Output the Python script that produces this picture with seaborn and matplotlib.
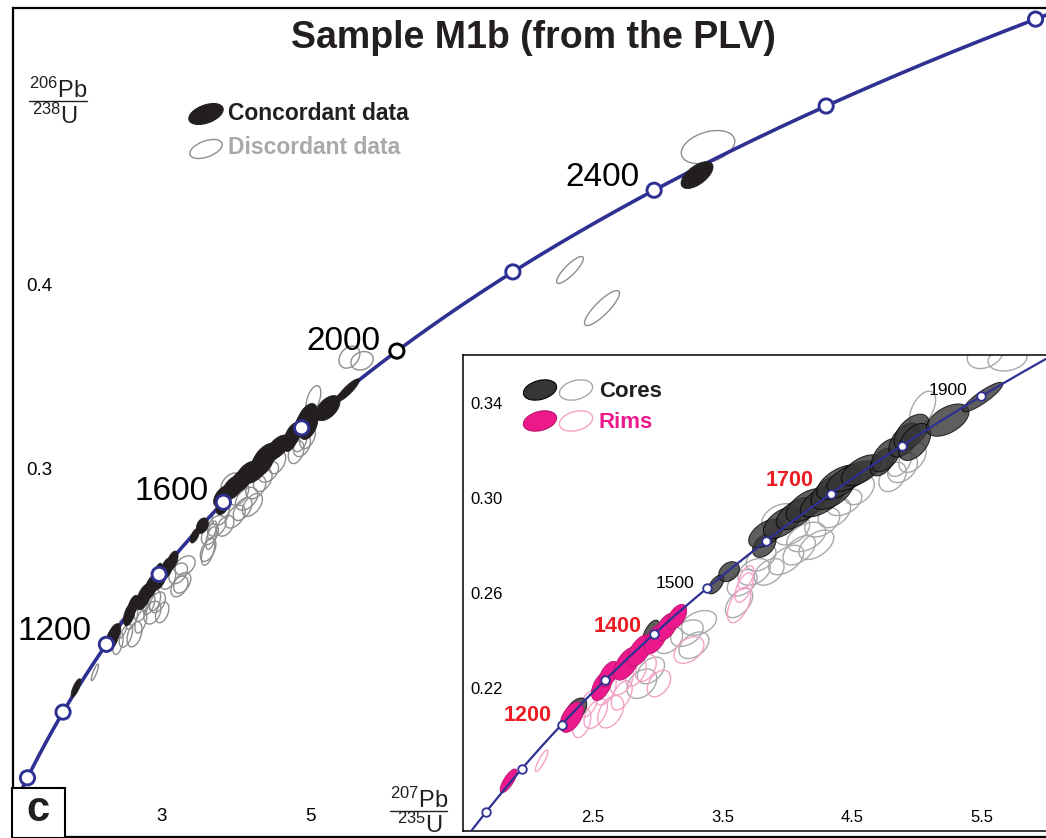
import numpy as np
import pandas as pd
import matplotlib
matplotlib.use("Agg")
import matplotlib.pyplot as plt
import seaborn as sns
from matplotlib.patches import Ellipse, Rectangle
from matplotlib.lines import Line2D

# ---------------- data ----------------
LAMBDA_238 = 1.55125e-10   # 1/yr
LAMBDA_235 = 9.8485e-10    # 1/yr

main_marker_ages = [800, 1000, 1200, 1400, 1600, 1800, 2000, 2200, 2400, 2600, 2800]
main_label_ages = [1200, 1600, 2000, 2400]
inset_marker_ages = [1000, 1100, 1200, 1300, 1400, 1500, 1600, 1700, 1800, 1900]
inset_label_ages = [1200, 1400, 1500, 1700, 1900]

main_xticks = [2, 3, 4, 5, 6, 7, 8, 9, 10, 11, 12, 13, 14]
main_xticklabels = ["", "3", "", "5", "", "", "", "", "", "", "", "", ""]
main_yticks = [0.15, 0.20, 0.25, 0.30, 0.35, 0.40, 0.45, 0.50]
main_yticklabels = ["", "", "", "0.3", "", "0.4", "", ""]
inset_xticks = [2.0, 2.5, 3.0, 3.5, 4.0, 4.5, 5.0, 5.5]
inset_xticklabels = ["", "2.5", "", "3.5", "", "4.5", "", "5.5"]
inset_yticks = [0.18, 0.20, 0.22, 0.24, 0.26, 0.28, 0.30, 0.32, 0.34]
inset_yticklabels = ["", "", "0.22", "", "0.26", "", "0.30", "", "0.34"]

# concordant cores: 207Pb/235U, 206Pb/238U, 2s errors, error correlation
core_conc_x = [2.369, 2.949, 3.451, 3.552, 3.823, 3.838, 3.962, 4.070, 4.147, 4.271, 4.349,
               4.403, 4.496, 4.573, 4.735, 4.766, 4.905, 4.960, 4.983, 5.238, 5.509, 10.207]
core_conc_y = [0.2105, 0.2433, 0.2636, 0.2690, 0.2800, 0.2851, 0.2896, 0.2935, 0.2969, 0.2990, 0.3027,
               0.3066, 0.3091, 0.3117, 0.3151, 0.3180, 0.3244, 0.3277, 0.3236, 0.3328, 0.3425, 0.4593]
core_conc_sx = [0.085, 0.065, 0.062, 0.080, 0.090, 0.135, 0.145, 0.155, 0.155, 0.170, 0.165,
                0.175, 0.190, 0.155, 0.095, 0.115, 0.120, 0.135, 0.125, 0.165, 0.155, 0.215]
core_conc_sy = [0.0053, 0.0053, 0.0040, 0.0042, 0.0050, 0.0060, 0.0066, 0.0068, 0.0070, 0.0070, 0.0075,
                0.0073, 0.0065, 0.0065, 0.0058, 0.0070, 0.0072, 0.0076, 0.0078, 0.0068, 0.0062, 0.0073]
core_conc_rho = [0.50, 0.60, 0.60, 0.30, 0.40, 0.50, 0.50, 0.55, 0.55, 0.60, 0.50,
                 0.55, 0.65, 0.55, 0.45, 0.50, 0.50, 0.50, 0.45, 0.50, 0.88, 0.60]

# concordant rims
rim_conc_x = [1.851, 2.338, 2.570, 2.624, 2.763, 2.864, 2.987, 3.072, 3.150]
rim_conc_y = [0.1809, 0.2077, 0.2209, 0.2258, 0.2303, 0.2358, 0.2408, 0.2458, 0.2500]
rim_conc_sx = [0.065, 0.090, 0.080, 0.075, 0.100, 0.095, 0.090, 0.085, 0.075]
rim_conc_sy = [0.0050, 0.0064, 0.0062, 0.0054, 0.0070, 0.0066, 0.0064, 0.0058, 0.0052]
rim_conc_rho = [0.75, 0.50, 0.50, 0.50, 0.55, 0.55, 0.55, 0.50, 0.50]

# discordant cores
core_disc_x = [3.227, 3.320, 3.281, 3.088, 2.879, 2.949, 3.653, 3.745, 3.629, 3.939, 4.039,
               4.147, 4.093, 4.271, 4.364, 4.441, 3.993, 3.799, 3.861, 4.813, 4.890, 4.967,
               5.045, 5.530, 5.700, 4.867, 4.225, 4.557, 8.498, 8.928, 10.355]
core_disc_y = [0.2431, 0.2474, 0.2380, 0.2401, 0.2218, 0.2274, 0.2643, 0.2689, 0.2558, 0.2920, 0.2864,
               0.2836, 0.2780, 0.2898, 0.2937, 0.2982, 0.2739, 0.2748, 0.2689, 0.3089, 0.3127, 0.3170,
               0.3375, 0.3605, 0.3585, 0.3153, 0.2803, 0.3034, 0.4078, 0.3871, 0.4745]
core_disc_sx = [0.125, 0.135, 0.115, 0.105, 0.115, 0.105, 0.115, 0.125, 0.105, 0.135, 0.135,
                0.150, 0.125, 0.135, 0.125, 0.135, 0.135, 0.115, 0.115, 0.105, 0.115, 0.105,
                0.100, 0.140, 0.150, 0.095, 0.135, 0.115, 0.180, 0.235, 0.360]
core_disc_sy = [0.0056, 0.0052, 0.0056, 0.0056, 0.0062, 0.0056, 0.0056, 0.0056, 0.0062, 0.0056, 0.0062,
                0.0062, 0.0062, 0.0062, 0.0062, 0.0056, 0.0062, 0.0056, 0.0056, 0.0062, 0.0062, 0.0062,
                0.0075, 0.0060, 0.0050, 0.0062, 0.0062, 0.0062, 0.0073, 0.0095, 0.0090]
core_disc_rho = [0.40, 0.35, 0.40, 0.40, 0.35, 0.40, 0.40, 0.35, 0.50, 0.40, 0.40,
                 0.40, 0.50, 0.40, 0.40, 0.40, 0.50, 0.40, 0.40, 0.35, 0.35, 0.40,
                 0.50, 0.30, 0.20, 0.40, 0.50, 0.40, 0.85, 0.85, 0.35]

# discordant rims
rim_disc_x = [2.106, 2.523, 2.639, 2.415, 2.469, 2.601, 2.724, 2.833, 2.724, 2.910,
              3.243, 3.629, 3.668, 3.683, 3.011]
rim_disc_y = [0.1894, 0.2092, 0.2100, 0.2053, 0.2134, 0.2190, 0.2233, 0.2263, 0.2169, 0.2284,
              0.2360, 0.2550, 0.2623, 0.2665, 0.2219]
rim_disc_sx = [0.048, 0.090, 0.100, 0.070, 0.070, 0.080, 0.090, 0.080, 0.080, 0.080,
               0.115, 0.090, 0.070, 0.060, 0.090]
rim_disc_sy = [0.0045, 0.0062, 0.0068, 0.0062, 0.0056, 0.0062, 0.0062, 0.0056, 0.0062, 0.0056,
               0.0056, 0.0075, 0.0062, 0.0050, 0.0056]
rim_disc_rho = [0.85, 0.50, 0.40, 0.40, 0.50, 0.50, 0.40, 0.50, 0.50, 0.40,
                0.40, 0.55, 0.55, 0.55, 0.40]

# ---------------- style ----------------
sns.set_theme(style="white")
plt.rcParams["font.family"] = ["Liberation Sans", "DejaVu Sans"]
plt.rcParams["mathtext.fontset"] = "custom"
plt.rcParams["mathtext.rm"] = "Liberation Sans"
plt.rcParams["mathtext.default"] = "regular"

NAVY = "#2e3192"
BLACK_FILL = "#231f20"
CORE_FILL = "#363636"
MAGENTA = "#ec198c"
PINK = "#f4a3c6"
GRAY = "#8e8e8e"
LGRAY = "#a7a9ac"
RED = "#ed1c24"

W, H, DPI = 1046, 838, 100
fig = plt.figure(figsize=(W / DPI, H / DPI), dpi=DPI)
fig.patch.set_facecolor("white")


def fx(px):
    return px / W


def fy(py):
    return 1 - py / H


def ellipse_xy(x, y, sx, sy, rho, n=90):
    t = np.linspace(0, 2 * np.pi, n)
    ex = x + sx * np.cos(t)
    ey = y + sy * (rho * np.cos(t) + np.sqrt(1 - rho ** 2) * np.sin(t))
    return ex, ey


def draw_ellipses(a, xs, ys, sxs, sys_, rhos, **kw):
    for x, y, sx, sy, r in zip(xs, ys, sxs, sys_, rhos):
        ex, ey = ellipse_xy(x, y, sx, sy, r)
        a.fill(ex, ey, **kw)


def concordia(ages_ma):
    t = np.asarray(ages_ma, dtype=float) * 1e6
    return np.expm1(LAMBDA_235 * t), np.expm1(LAMBDA_238 * t)


line_ages = np.arange(700, 3001, 5)
cx, cy = concordia(line_ages)
conc_df = pd.DataFrame({"x": cx, "y": cy})

# ---------------- main axes ----------------
ax = fig.add_axes([fx(12.7), fy(837), (1053.3 - 12.7) / W, (837 - 8) / H])
ax.set_xlim(1, 15)
ax.set_ylim(0.1, 0.55)
ax.set_facecolor("white")

sns.lineplot(data=conc_df, x="x", y="y", sort=False, estimator=None, ax=ax,
             color=NAVY, lw=2.6, zorder=2)

for xs, ys, sxs, sys_, rhos in [(core_disc_x, core_disc_y, core_disc_sx, core_disc_sy, core_disc_rho),
                                (rim_disc_x, rim_disc_y, rim_disc_sx, rim_disc_sy, rim_disc_rho)]:
    draw_ellipses(ax, xs, ys, sxs, sys_, rhos, fill=False, edgecolor=GRAY, lw=1.0, zorder=1.5)
for xs, ys, sxs, sys_, rhos in [(core_conc_x, core_conc_y, core_conc_sx, core_conc_sy, core_conc_rho),
                                (rim_conc_x, rim_conc_y, rim_conc_sx, rim_conc_sy, rim_conc_rho)]:
    draw_ellipses(ax, xs, ys, sxs, sys_, rhos, facecolor=BLACK_FILL, edgecolor=BLACK_FILL, lw=0.6, zorder=3)

mx, my = concordia(main_marker_ages)
medge = ["black" if a == 2000 else NAVY for a in main_marker_ages]
sns.scatterplot(x=mx, y=my, ax=ax, s=105, color="white", edgecolor=medge, linewidth=2.1, zorder=5)

main_label_pos = {1200: (1.556, 0.2113), 1600: (3.144, 0.2873), 2000: (5.444, 0.3692), 2400: (8.929, 0.4582)}
for age in main_label_ages:
    px_, py_ = main_label_pos[age]
    ax.text(px_, py_, str(age), fontsize=24, ha="center", va="center", color="black", zorder=6)

ax.set_xticks(main_xticks, main_xticklabels)
ax.set_yticks(main_yticks, main_yticklabels)
ax.tick_params(axis="both", direction="in", length=7, width=1.3, colors="black", labelsize=13.5)
ax.tick_params(axis="x", pad=-21)
ax.tick_params(axis="y", pad=-10)
for lab in ax.get_yticklabels():
    lab.set_horizontalalignment("left")
ax.set_xlabel("")
ax.set_ylabel("")
for side in ["left", "top", "bottom"]:
    ax.spines[side].set_visible(True)
    ax.spines[side].set_color("black")
    ax.spines[side].set_linewidth(1.6)
ax.spines["right"].set_visible(False)

# ---------------- inset axes ----------------
axi = fig.add_axes([fx(463.1), fy(830.5), (1046.4 - 463.1) / W, (830.5 - 355.5) / H])
axi.set_zorder(3)
axi.set_facecolor("white")
axi.set_xlim(1.5, 6.0)
axi.set_ylim(0.16, 0.36)

draw_ellipses(axi, core_disc_x, core_disc_y, core_disc_sx, core_disc_sy, core_disc_rho,
              fill=False, edgecolor=LGRAY, lw=1.0, zorder=2)
draw_ellipses(axi, rim_disc_x, rim_disc_y, rim_disc_sx, rim_disc_sy, rim_disc_rho,
              fill=False, edgecolor=PINK, lw=1.0, zorder=2)
draw_ellipses(axi, core_conc_x, core_conc_y, core_conc_sx, core_conc_sy, core_conc_rho,
              facecolor=CORE_FILL, edgecolor="black", lw=0.7, alpha=0.8, zorder=3)
draw_ellipses(axi, rim_conc_x, rim_conc_y, rim_conc_sx, rim_conc_sy, rim_conc_rho,
              facecolor=MAGENTA, edgecolor="#b8156f", lw=0.6, zorder=4)

sns.lineplot(data=conc_df, x="x", y="y", sort=False, estimator=None, ax=axi,
             color=NAVY, lw=1.6, zorder=5)
ix, iy = concordia(inset_marker_ages)
sns.scatterplot(x=ix, y=iy, ax=axi, s=38, color="white", edgecolor=NAVY, linewidth=1.3, zorder=6)

inset_label_pos = {1200: (1.996, 0.2086), 1400: (2.691, 0.2457), 1500: (3.131, 0.2642),
                   1700: (4.018, 0.3072), 1900: (5.238, 0.3451)}
inset_label_style = {1200: (RED, "bold", 15.5), 1400: (RED, "bold", 15.5), 1500: ("black", "normal", 12.5),
                     1700: (RED, "bold", 15.5), 1900: ("black", "normal", 12.5)}
for age in inset_label_ages:
    px_, py_ = inset_label_pos[age]
    c, wgt, fs = inset_label_style[age]
    axi.text(px_, py_, str(age), fontsize=fs, fontweight=wgt, color=c, ha="center", va="center", zorder=7)

axi.set_xticks(inset_xticks, inset_xticklabels)
axi.set_yticks(inset_yticks, inset_yticklabels)
axi.tick_params(axis="both", direction="in", length=3, width=1.0, colors="black", labelsize=12)
axi.tick_params(axis="x", pad=-15)
axi.tick_params(axis="y", pad=-5)
for lab in axi.get_yticklabels():
    lab.set_horizontalalignment("left")
axi.set_xlabel("")
axi.set_ylabel("")
for side in ["left", "top", "bottom"]:
    axi.spines[side].set_visible(True)
    axi.spines[side].set_color("black")
    axi.spines[side].set_linewidth(1.1)
axi.spines["right"].set_visible(False)

# ---------------- annotations ----------------
fig.text(fx(533), fy(38), "Sample M1b (from the PLV)", fontsize=27, fontweight="bold",
         ha="center", va="center", color="#231f20")


def add_ell(px, py, w, h, ang, **kw):
    e = Ellipse((px / DPI, (H - py) / DPI), w / DPI, h / DPI, angle=ang,
                transform=fig.dpi_scale_trans, **kw)
    e.set_zorder(10)
    fig.add_artist(e)


add_ell(206, 114, 36, 18, 20, facecolor=BLACK_FILL, edgecolor=BLACK_FILL, lw=0.8)
add_ell(206, 149, 34, 16, 20, facecolor="none", edgecolor=GRAY, lw=1.0)
fig.text(fx(228), fy(113), "Concordant data", fontsize=16.5, fontweight="bold",
         ha="left", va="center", color=BLACK_FILL)
fig.text(fx(228), fy(148), "Discordant data", fontsize=16.5, fontweight="bold",
         ha="left", va="center", color=LGRAY)

add_ell(540, 390, 34, 19, 15, facecolor=CORE_FILL, edgecolor="black", lw=0.8)
add_ell(576, 390, 34, 19, 15, facecolor="white", edgecolor=LGRAY, lw=1.0)
add_ell(540, 421, 34, 19, 15, facecolor=MAGENTA, edgecolor="#b8156f", lw=0.8)
add_ell(576, 421, 34, 19, 15, facecolor="white", edgecolor=PINK, lw=1.0)
t1 = fig.text(fx(599), fy(391), "Cores", fontsize=16, fontweight="bold", ha="left", va="center", color=BLACK_FILL)
t2 = fig.text(fx(599), fy(422), "Rims", fontsize=16, fontweight="bold", ha="left", va="center", color=MAGENTA)
t1.set_zorder(10)
t2.set_zorder(10)

fig.text(fx(58), fy(98), "$^{206}$Pb", fontsize=17, ha="center", va="baseline", color=BLACK_FILL)
fig.add_artist(Line2D([fx(29), fx(87)], [fy(101), fy(101)], transform=fig.transFigure, color=BLACK_FILL, lw=1.0))
fig.text(fx(55), fy(104), "$^{238}$U", fontsize=17, ha="center", va="top", color=BLACK_FILL)

fig.text(fx(419), fy(808), "$^{207}$Pb", fontsize=17, ha="center", va="baseline", color=BLACK_FILL)
fig.add_artist(Line2D([fx(390), fx(447)], [fy(811), fy(811)], transform=fig.transFigure, color=BLACK_FILL, lw=1.0))
fig.text(fx(420), fy(813), "$^{235}$U", fontsize=17, ha="center", va="top", color=BLACK_FILL)

box = Rectangle((12 / DPI, 0), 53 / DPI, 50 / DPI, transform=fig.dpi_scale_trans,
                facecolor="white", edgecolor="black", lw=1.5, zorder=10)
fig.add_artist(box)
tc = fig.text(fx(38), fy(810), "c", fontsize=30, fontweight="bold", ha="center", va="center", color=BLACK_FILL)
tc.set_zorder(11)

fig.savefig("out.png", dpi=DPI, facecolor="white")
